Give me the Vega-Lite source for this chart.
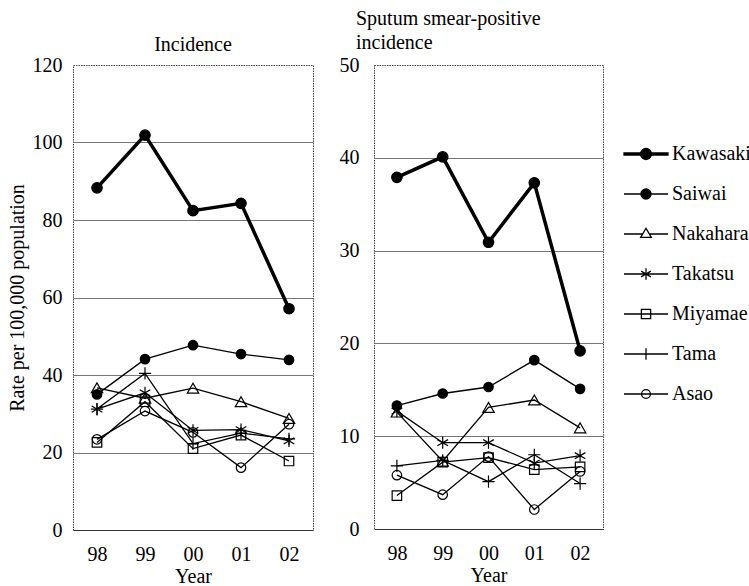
{
  "$schema": "https://vega.github.io/schema/vega-lite/v6.json",
  "padding": {"left": 6, "top": 8, "right": 0, "bottom": 0},
  "datasets": {
    "incidence": [
      {"series": "Kawasaki", "year": 1998, "rate": 88.3}, {"series": "Kawasaki", "year": 1999, "rate": 101.9}, {"series": "Kawasaki", "year": 2000, "rate": 82.4}, {"series": "Kawasaki", "year": 2001, "rate": 84.3}, {"series": "Kawasaki", "year": 2002, "rate": 57.1},
      {"series": "Saiwai", "year": 1998, "rate": 35.0}, {"series": "Saiwai", "year": 1999, "rate": 44.1}, {"series": "Saiwai", "year": 2000, "rate": 47.7}, {"series": "Saiwai", "year": 2001, "rate": 45.4}, {"series": "Saiwai", "year": 2002, "rate": 43.9},
      {"series": "Nakahara", "year": 1998, "rate": 36.7}, {"series": "Nakahara", "year": 1999, "rate": 34.0}, {"series": "Nakahara", "year": 2000, "rate": 36.6}, {"series": "Nakahara", "year": 2001, "rate": 33.1}, {"series": "Nakahara", "year": 2002, "rate": 28.8},
      {"series": "Takatsu", "year": 1998, "rate": 31.2}, {"series": "Takatsu", "year": 1999, "rate": 35.4}, {"series": "Takatsu", "year": 2000, "rate": 25.7}, {"series": "Takatsu", "year": 2001, "rate": 25.9}, {"series": "Takatsu", "year": 2002, "rate": 23.0},
      {"series": "Miyamae", "year": 1998, "rate": 22.6}, {"series": "Miyamae", "year": 1999, "rate": 33.1}, {"series": "Miyamae", "year": 2000, "rate": 21.0}, {"series": "Miyamae", "year": 2001, "rate": 24.5}, {"series": "Miyamae", "year": 2002, "rate": 17.8},
      {"series": "Tama", "year": 1998, "rate": 31.2}, {"series": "Tama", "year": 1999, "rate": 40.4}, {"series": "Tama", "year": 2000, "rate": 22.3}, {"series": "Tama", "year": 2001, "rate": 25.0}, {"series": "Tama", "year": 2002, "rate": 23.5},
      {"series": "Asao", "year": 1998, "rate": 23.4}, {"series": "Asao", "year": 1999, "rate": 30.7}, {"series": "Asao", "year": 2000, "rate": 25.2}, {"series": "Asao", "year": 2001, "rate": 16.1}, {"series": "Asao", "year": 2002, "rate": 27.3}
    ],
    "smear": [
      {"series": "Kawasaki", "year": 1998, "rate": 37.9}, {"series": "Kawasaki", "year": 1999, "rate": 40.1}, {"series": "Kawasaki", "year": 2000, "rate": 30.9}, {"series": "Kawasaki", "year": 2001, "rate": 37.3}, {"series": "Kawasaki", "year": 2002, "rate": 19.2},
      {"series": "Saiwai", "year": 1998, "rate": 13.3}, {"series": "Saiwai", "year": 1999, "rate": 14.6}, {"series": "Saiwai", "year": 2000, "rate": 15.3}, {"series": "Saiwai", "year": 2001, "rate": 18.2}, {"series": "Saiwai", "year": 2002, "rate": 15.1},
      {"series": "Nakahara", "year": 1998, "rate": 12.6}, {"series": "Nakahara", "year": 1999, "rate": 7.3}, {"series": "Nakahara", "year": 2000, "rate": 13.1}, {"series": "Nakahara", "year": 2001, "rate": 13.9}, {"series": "Nakahara", "year": 2002, "rate": 10.9},
      {"series": "Takatsu", "year": 1998, "rate": 12.7}, {"series": "Takatsu", "year": 1999, "rate": 9.3}, {"series": "Takatsu", "year": 2000, "rate": 9.3}, {"series": "Takatsu", "year": 2001, "rate": 7.1}, {"series": "Takatsu", "year": 2002, "rate": 7.9},
      {"series": "Miyamae", "year": 1998, "rate": 3.6}, {"series": "Miyamae", "year": 1999, "rate": 7.2}, {"series": "Miyamae", "year": 2000, "rate": 7.7}, {"series": "Miyamae", "year": 2001, "rate": 6.4}, {"series": "Miyamae", "year": 2002, "rate": 6.7},
      {"series": "Tama", "year": 1998, "rate": 6.8}, {"series": "Tama", "year": 1999, "rate": 7.4}, {"series": "Tama", "year": 2000, "rate": 5.1}, {"series": "Tama", "year": 2001, "rate": 8.0}, {"series": "Tama", "year": 2002, "rate": 4.9},
      {"series": "Asao", "year": 1998, "rate": 5.8}, {"series": "Asao", "year": 1999, "rate": 3.7}, {"series": "Asao", "year": 2000, "rate": 7.8}, {"series": "Asao", "year": 2001, "rate": 2.1}, {"series": "Asao", "year": 2002, "rate": 6.2}
    ]
  },
  "spacing": 61,
  "bounds": "flush",
  "hconcat": [
    {
      "data": {"name": "incidence"},
      "width": 240,
      "height": 465,
      "title": {"text": "Incidence", "offset": 0},
      "layer": [
        {
          "mark": {"type": "line", "color": "black"},
          "encoding": {
            "x": {"field": "year", "type": "quantitative", "scale": {"domain": [1997.5, 2002.5], "nice": false, "zero": false},
                  "axis": {"title": "Year", "values": [1998, 1998.5, 1999, 1999.5, 2000, 2000.5, 2001, 2001.5, 2002],
                           "labelExpr": "datum.value % 1 === 0 ? slice(toString(datum.value), 2) : ''",
                           "tickOpacity": {"condition": {"test": "datum.value % 1 === 0", "value": 0}, "value": 1}}},
            "y": {"field": "rate", "type": "quantitative", "scale": {"domain": [0, 120], "nice": false},
                  "axis": {"title": "Rate per 100,000 population", "values": [0, 20, 40, 60, 80, 100, 120], "labelPadding": 11,
                           "gridOpacity": {"condition": {"test": "datum.value === 0 || datum.value === 120", "value": 0}, "value": 1}}},
            "detail": {"field": "series"},
            "strokeWidth": {"condition": {"test": "datum.series === 'Kawasaki'", "value": 3.5}, "value": 1.3}
          }
        },
        {
          "mark": {"type": "point", "stroke": "black", "strokeWidth": 1.2, "opacity": 1},
          "encoding": {
            "x": {"field": "year", "type": "quantitative"},
            "y": {"field": "rate", "type": "quantitative"},
            "shape": {"condition": [
              {"test": "datum.series === 'Nakahara'", "value": "triangle-up"},
              {"test": "datum.series === 'Takatsu'", "value": "M0,-1L0,1M-0.87,-0.5L0.87,0.5M-0.87,0.5L0.87,-0.5"},
              {"test": "datum.series === 'Miyamae'", "value": "square"},
              {"test": "datum.series === 'Tama'", "value": "M-1,0L1,0M0,-1L0,1"}
            ], "value": "circle"},
            "size": {"condition": [{"test": "datum.series === 'Takatsu' || datum.series === 'Tama'", "value": 150}, {"test": "datum.series === 'Nakahara'", "value": 130}, {"test": "datum.series === 'Kawasaki'", "value": 110}], "value": 90},
            "fill": {"condition": {"test": "datum.series === 'Kawasaki' || datum.series === 'Saiwai'", "value": "black"}, "value": "transparent"}
          }
        }
      ]
    },
    {
      "data": {"name": "smear"},
      "width": 229,
      "height": 464,
      "title": {"text": ["Sputum smear-positive", "incidence"], "anchor": "start", "dx": 17, "offset": 2, "lineHeight": 24},
      "layer": [
        {
          "mark": {"type": "line", "color": "black"},
          "encoding": {
            "x": {"field": "year", "type": "quantitative", "scale": {"domain": [1997.5, 2002.5], "nice": false, "zero": false},
                  "axis": {"title": "Year", "values": [1998, 1998.5, 1999, 1999.5, 2000, 2000.5, 2001, 2001.5, 2002],
                           "labelExpr": "datum.value % 1 === 0 ? slice(toString(datum.value), 2) : ''",
                           "tickOpacity": {"condition": {"test": "datum.value % 1 === 0", "value": 0}, "value": 1}}},
            "y": {"field": "rate", "type": "quantitative", "scale": {"domain": [0, 50], "nice": false},
                  "axis": {"title": null, "values": [0, 10, 20, 30, 40, 50], "labelPadding": 15,
                           "gridOpacity": {"condition": {"test": "datum.value === 0 || datum.value === 50", "value": 0}, "value": 1}}},
            "detail": {"field": "series"},
            "strokeWidth": {"condition": {"test": "datum.series === 'Kawasaki'", "value": 3.5}, "value": 1.3}
          }
        },
        {
          "mark": {"type": "point", "stroke": "black", "strokeWidth": 1.2, "opacity": 1},
          "encoding": {
            "x": {"field": "year", "type": "quantitative"},
            "y": {"field": "rate", "type": "quantitative"},
            "shape": {"condition": [
              {"test": "datum.series === 'Nakahara'", "value": "triangle-up"},
              {"test": "datum.series === 'Takatsu'", "value": "M0,-1L0,1M-0.87,-0.5L0.87,0.5M-0.87,0.5L0.87,-0.5"},
              {"test": "datum.series === 'Miyamae'", "value": "square"},
              {"test": "datum.series === 'Tama'", "value": "M-1,0L1,0M0,-1L0,1"}
            ], "value": "circle"},
            "size": {"condition": [{"test": "datum.series === 'Takatsu' || datum.series === 'Tama'", "value": 150}, {"test": "datum.series === 'Nakahara'", "value": 130}, {"test": "datum.series === 'Kawasaki'", "value": 110}], "value": 90},
            "fill": {"condition": {"test": "datum.series === 'Kawasaki' || datum.series === 'Saiwai'", "value": "black"}, "value": "transparent"}
          }
        },
        {
          "mark": {"type": "point", "stroke": "black", "strokeWidth": 1.3, "opacity": 0},
          "encoding": {
            "x": {"field": "year", "type": "quantitative"},
            "y": {"field": "rate", "type": "quantitative"},
            "shape": {"field": "series", "type": "nominal",
                      "scale": {"domain": ["Kawasaki", "Saiwai", "Nakahara", "Takatsu", "Miyamae", "Tama", "Asao"],
                                "range": [
                                  "M-1,-0.05L-0.24,-0.05L-0.24,0.05L-1,0.05ZM0.24,-0.05L1,-0.05L1,0.05L0.24,0.05ZM0.25,0A0.25,0.25 0 1,1 -0.25,0A0.25,0.25 0 1,1 0.25,0Z",
                                  "M-1,0L1,0M0.23,0A0.23,0.23 0 1,1 -0.23,0A0.23,0.23 0 1,1 0.23,0Z",
                                  "M-1,0L-0.15,0M0.15,0L1,0M0,-0.26L0.24,0.15L-0.24,0.15Z",
                                  "M-1,0L1,0M0,-0.26L0,0.26M-0.22,-0.13L0.22,0.13M-0.22,0.13L0.22,-0.13",
                                  "M-1,0L1,0M-0.21,-0.21L0.21,-0.21L0.21,0.21L-0.21,0.21Z",
                                  "M-1,0L1,0M0,-0.26L0,0.26",
                                  "M-1,0L1,0M0.2,0A0.2,0.2 0 1,1 -0.2,0A0.2,0.2 0 1,1 0.2,0Z"
                                ]},
                      "legend": {"orient": "none", "legendX": 550, "legendY": 66, "title": null, "symbolSize": 1936, "symbolStrokeWidth": 1.3, "rowPadding": 7, "labelOffset": 3, "padding": 0,
                                 "labelFont": "Liberation Serif", "labelFontSize": 20, "labelColor": "black", "labelLimit": 200, "symbolOpacity": 1,
                                 "symbolStrokeColor": "black",
                                 "encoding": {
                                   "symbols": {
                                     "stroke": {"value": "black"},
                                     "fill": {"value": {"expr": "datum.value === 'Kawasaki' || datum.value === 'Saiwai' ? 'black' : 'transparent'"}}
                                   },
                                   "labels": {
                                     "font": {"value": "Liberation Serif"}
                                   }
                                 }}}
          }
        }
      ]
    }
  ],
  "config": {
    "font": "Liberation Serif",
    "view": {"stroke": "#444", "strokeDash": [1.5, 1], "strokeWidth": 1},
    "title": {"font": "Liberation Serif", "fontSize": 20, "fontWeight": "normal", "color": "black"},
    "legend": {"labelFont": "Liberation Serif", "labelFontSize": 20, "labelColor": "black"},
    "axis": {"labelFont": "Liberation Serif", "labelFontSize": 20, "labelColor": "black", "titleFont": "Liberation Serif", "titleFontSize": 20, "titleFontWeight": "normal", "titleColor": "black", "labelOverlap": false},
    "axisY": {"ticks": false, "domain": false, "grid": true, "gridColor": "#777", "gridWidth": 1, "titlePadding": 5},
    "axisX": {"grid": false, "domain": true, "domainColor": "#333", "tickColor": "#333", "tickSize": -5, "labelPadding": 19, "titlePadding": 2}
  }
}
